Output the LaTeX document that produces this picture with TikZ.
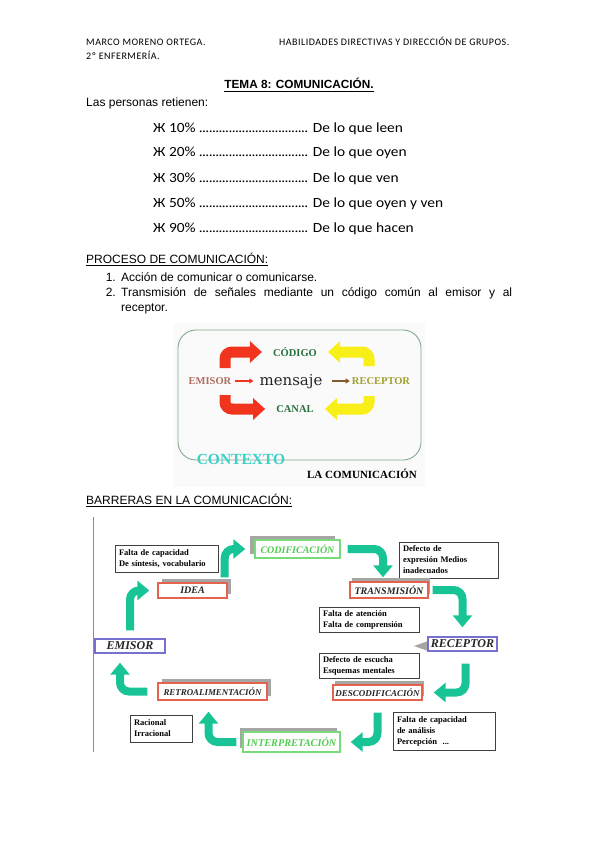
\documentclass[tikz,border=0pt]{standalone}
\usepackage{fontspec}
\setmainfont{Liberation Sans}
\newfontfamily\calfont{Carlito}
\newfontfamily\hdrfont[LetterSpace=5]{Carlito}
\newfontfamily\retfont[FakeStretch=1.1]{Carlito}
\newfontfamily\timesfont{Liberation Serif}
\newfontfamily\serfont{DejaVu Serif}
\usetikzlibrary{arrows.meta,shadows}
\definecolor{mint}{RGB}{24,196,150}
\definecolor{boxred}{RGB}{228,98,78}
\definecolor{boxgreen}{RGB}{120,218,120}
\definecolor{boxblue}{RGB}{118,112,208}
\definecolor{labgreen}{RGB}{80,204,80}
\definecolor{arrred}{RGB}{240,52,30}
\definecolor{arryel}{RGB}{248,238,24}
\definecolor{codgreen}{RGB}{40,112,60}
\definecolor{emibrown}{RGB}{178,108,96}
\definecolor{recolive}{RGB}{160,160,48}
\definecolor{ctxcyan}{RGB}{60,208,198}
\definecolor{framegreen}{RGB}{130,170,140}
\newcommand\dotrow{\xleaders\hbox to 3.3pt{\hss.\hss}\hfill}

\begin{document}
\begin{tikzpicture}[x=1pt,y=-1pt,
  txt/.style={inner sep=0pt,anchor=base west,font=\fontsize{12}{14}\selectfont},
  num/.style={txt,anchor=base east},
  hdr/.style={inner sep=0pt,anchor=base west,font=\hdrfont\fontsize{10}{11}\selectfont},
  ret/.style={inner sep=0pt,anchor=base west,font=\retfont\fontsize{14}{16}\selectfont},
  ul/.style={line width=0.7pt},
  tag1/.style={inner sep=2pt,font=\timesfont\bfseries\fontsize{10.5}{12}\selectfont},
  bentarrow/.style={line width=11pt,rounded corners=7pt,shorten >=9pt,-{Triangle[length=12pt,width=21pt]}},
  flow/.style={draw=mint,line width=8pt,rounded corners=9pt,-{Triangle[length=12pt,width=19pt]}},
  note/.style={draw=black!75,fill=white,line width=0.8pt,inner xsep=4pt,inner ysep=2pt,align=left,text width=#1,font=\timesfont\bfseries\fontsize{8.5}{11}\selectfont},
  lbl/.style={fill=white,line width=1.4pt,inner sep=0pt,text=black!85,font=\timesfont\bfseries\itshape\fontsize{#1}{12}\selectfont},
  ghost/.style={drop shadow={shadow xshift=#1,shadow yshift=4pt,fill=black!35,opacity=1}}]
\useasboundingbox (0,0) rectangle (599,848);

\node[hdr] (autor) at (86,46) {MARCO MORENO ORTEGA.};
\node[hdr] (asig) at (279,46) {HABILIDADES DIRECTIVAS Y DIRECCIÓN DE GRUPOS.};
\node[hdr] (curso) at (86,60) {2º ENFERMERÍA.};
\node[inner sep=0pt,anchor=base,font=\bfseries\fontsize{11.8}{13}\selectfont] (tema) at (299,89) {TEMA 8: COMUNICACIÓN.};
\draw[ul] ([yshift=-2pt]tema.base west) -- ([yshift=-2pt]tema.base east);

\node[txt] (intro) at (86,107) {Las personas retienen:};
\foreach \p/\w [count=\i] in {10/leen,20/oyen,30/ven,50/oyen y ven,90/hacen}
  \node[ret] (ret\i) at (153,{107+25*\i}) {\makebox[155pt][l]{Ж \p\% \dotrow}\hspace{5pt}De lo que \w};

\node[txt] (proceso) at (86,263) {PROCESO DE COMUNICACIÓN:};
\draw[ul] ([yshift=-2pt]proceso.base west) -- ([yshift=-2pt]proceso.base east);
\node[num] (n1) at (116,281) {1.};
\node[txt] (i1) at (121,281) {Acción de comunicar o comunicarse.};
\node[num] (n2) at (116,296) {2.};
\node[txt] (i2) at (121,296) {\makebox[391pt][s]{Transmisión de señales mediante un código común al emisor y al}};
\node[txt] (i2b) at (121,311) {receptor.};

\fill[black!2] (174,323) rectangle (425,487);
\draw[framegreen,line width=0.9pt,rounded corners=18pt] (178,330) rectangle (421,460);
\node[tag1,text=codgreen] (codigo) at (295,352) {CÓDIGO};
\node[tag1,text=emibrown] (emisorA) at (210,381) {EMISOR};
\node[inner sep=1pt,anchor=base,text=black!85,font=\serfont\fontsize{15}{17}\selectfont] (mensaje) at (291,385) {mensaje};
\node[tag1,text=recolive] (receptorA) at (381,381) {RECEPTOR};
\node[tag1,text=codgreen] (canal) at (295,409) {CANAL};
\node[inner sep=0pt,text=ctxcyan,font=\timesfont\bfseries\fontsize{15.5}{17}\selectfont] (contexto) at (241,459) {CONTEXTO};
\node[inner sep=0pt,font=\timesfont\bfseries\fontsize{11}{13}\selectfont] (lacom) at (362,474) {LA COMUNICACIÓN};
\coordinate (rt) at (225,368);
\coordinate (rb) at (225,395);
\coordinate (yt) at (369,366);
\coordinate (yb) at (369,396);
\draw[bentarrow,arrred] (rt) |- (codigo);
\draw[bentarrow,arrred] (rb) |- (canal);
\draw[bentarrow,arryel] (yt) |- (codigo);
\draw[bentarrow,arryel] (yb) |- (canal);
\draw[arrred,line width=1.3pt,shorten <=2pt,shorten >=5pt,-{Triangle[length=4pt,width=5pt]}] (emisorA) -- (emisorA -| mensaje.west);
\draw[brown!70!black,line width=1.5pt,shorten <=8pt,-{Triangle[length=4pt,width=5pt]}] (receptorA -| mensaje.east) -- (receptorA);

\node[txt] (barreras) at (86,504) {BARRERAS EN LA COMUNICACIÓN:};
\draw[ul] ([yshift=-2pt]barreras.base west) -- ([yshift=-2pt]barreras.base east);
\draw[mint!80!green,line width=1pt] (93,517) -- (93,752);

\node[note=95pt,minimum height=27pt] (nIdea) at (166.5,558.5) {Falta de capacidad\\De síntesis, vocabulario};
\node[note=91pt,minimum height=36pt] (nCod) at (448.5,560) {Defecto de\\expresión Medios\\inadecuados};
\node[note=92pt,minimum height=25pt] (nTrans) at (369,619.5) {Falta de atención\\Falta de comprensión};
\node[note=92pt,minimum height=25pt] (nRec) at (369,665.5) {Defecto de escucha\\Esquemas mentales};
\node[note=94pt,minimum height=38pt] (nDes) at (444,731) {Falta de capacidad\\de análisis\\Percepción \ ...};
\node[note=54pt,minimum height=27pt] (nInt) at (161,728.5) {Racional\\Irracional};

\fill[black!35] (414,646) -- (428,641) -- (428,651) -- cycle;
\node[lbl=10,draw=boxred,ghost=4pt,minimum width=69pt,minimum height=15pt] (idea) at (192.5,590.5) {IDEA};
\node[lbl=10,draw=boxgreen,text=labgreen,ghost=-5pt,minimum width=85pt,minimum height=18pt] (codif) at (297.5,549) {CODIFICACIÓN};
\node[lbl=10,draw=boxred,ghost=2pt,minimum width=78pt,minimum height=16pt] (transm) at (389,590) {TRANSMISIÓN};
\node[lbl=12,draw=boxblue,minimum width=69pt,minimum height=14pt] (recep) at (462.5,644) {RECEPTOR};
\node[lbl=9,draw=boxred,ghost=2pt,minimum width=89pt,minimum height=15pt] (descod) at (377.5,692.5) {DESCODIFICACIÓN};
\node[lbl=10.3,draw=boxgreen,text=labgreen,ghost=-3pt,minimum width=97pt,minimum height=20pt] (interp) at (291.5,742) {INTERPRETACIÓN};
\node[lbl=8.9,draw=boxred,ghost=4pt,minimum width=109pt,minimum height=17pt] (retro) at (212.5,691.5) {RETROALIMENTACIÓN};
\node[lbl=12,draw=boxblue,minimum width=70pt,minimum height=14pt] (emisor) at (130,646) {EMISOR};

\draw[flow,shorten <=8pt,shorten >=8pt] (emisor.north) |- (idea.west);
\draw[flow,shorten <=5pt,shorten >=9pt] ([xshift=-3pt]idea.north east) |- (codif.west);
\draw[flow,shorten <=7pt,shorten >=4pt] (codif.east) -| ([xshift=-6pt]transm.north);
\draw[flow,shorten <=4pt,shorten >=9pt] (transm.east) -| (recep.north);
\draw[flow,shorten <=12pt,shorten >=11pt] ([xshift=3pt]recep.south) |- (descod.east);
\draw[flow,shorten <=12pt,shorten >=10pt] (descod.south) |- (interp.east);
\draw[flow,shorten <=6pt,shorten >=11pt] (interp.west) -| ([xshift=-4pt]retro.south);
\draw[flow,shorten <=10pt,shorten >=9pt] (retro.west) -| ([xshift=-10pt]emisor.south);
\end{tikzpicture}
\end{document}
